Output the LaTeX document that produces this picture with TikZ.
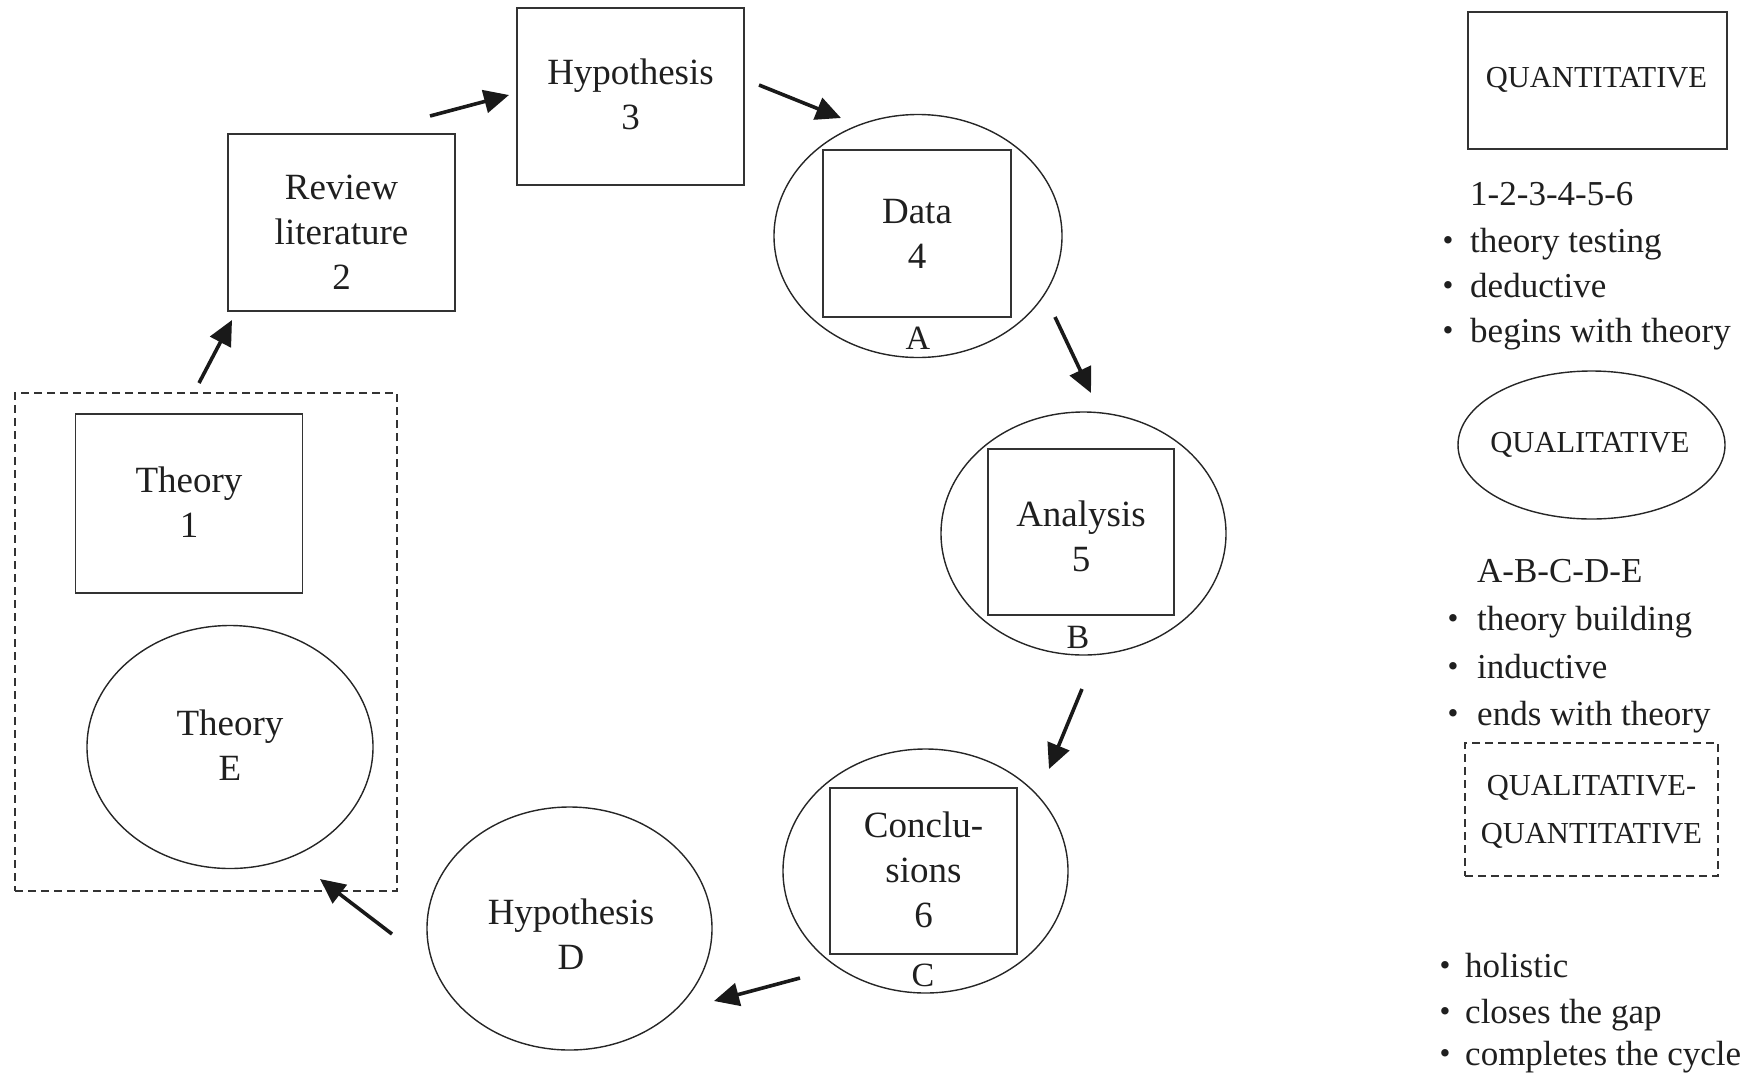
\documentclass[tikz,border=0pt]{standalone}
\usepackage{fontspec}
\setmainfont{Liberation Serif}
\usetikzlibrary{shapes.geometric,arrows.meta}
\begin{document}
\begin{tikzpicture}[x=1pt,y=-1pt,
  every node/.style={text=black!88},
  lbl/.style={font=\fontsize{37}{45}\selectfont, align=center, inner sep=0pt},
  box/.style={draw=black!80, line width=1.6pt, rectangle, inner sep=0pt},
  oval/.style={draw=black!85, line width=1.4pt, ellipse, inner sep=0pt},
  grp/.style={draw=black!80, line width=1.4pt, dash pattern=on 8pt off 5pt, rectangle, inner sep=0pt},
  arr/.style={draw=black!90, line width=3.6pt, -{Triangle[length=25pt,width=23pt]}},
  caps/.style={font=\fontsize{30.5}{48}\selectfont, align=center, inner sep=0pt},
  side/.style={anchor=base west, font=\fontsize{35}{44}\selectfont, inner sep=0pt},
  dot/.style={anchor=center, font=\fontsize{31}{31}\selectfont, inner sep=0pt},
  letter/.style={font=\fontsize{34}{40}\selectfont, inner sep=0pt},
]
\useasboundingbox (0,0) rectangle (1750,1072);

% left group
\node[grp, minimum width=382pt, minimum height=498pt] (grpbox) at (206,642) {};
\node[box, minimum width=227pt, minimum height=179pt] (th1) at (189,503.5) {};
\node[lbl] (th1t) at (189,502) {Theory\\1};
\node[oval, minimum width=286pt, minimum height=243pt] (thE) at (230,747) {};
\node[lbl] (thEt) at (230,745.5) {Theory\\E};

% cycle boxes
\node[box, minimum width=227pt, minimum height=177pt] (rev2) at (341.5,222.5) {};
\node[lbl] (rev2t) at (341.5,232) {Review\\literature\\2};
\node[box, minimum width=227pt, minimum height=177pt] (hyp3) at (630.5,96.5) {};
\node[lbl] (hyp3t) at (630.5,94.5) {Hypothesis\\3};

\node[oval, minimum width=288pt, minimum height=243pt] (dataE) at (918,236) {};
\node[box, minimum width=188pt, minimum height=167pt] (data4) at (917,233.5) {};
\node[lbl] (data4t) at (917,233.5) {Data\\4};
\node[letter] (lA) at (918,338) {A};

\node[oval, minimum width=285pt, minimum height=243pt] (anaE) at (1083.5,533.5) {};
\node[box, minimum width=186pt, minimum height=166pt] (ana5) at (1081,532) {};
\node[lbl] (ana5t) at (1081,536.5) {Analysis\\5};
\node[letter] (lB) at (1078,637) {B};

\node[oval, minimum width=285pt, minimum height=244pt] (conE) at (925.5,871) {};
\node[box, minimum width=187pt, minimum height=166pt] (con6) at (923.5,871) {};
\node[lbl] (con6t) at (923.5,870) {Conclu-\\sions\\6};
\node[letter] (lC) at (923,975) {C};

\node[oval, minimum width=285pt, minimum height=243pt] (hypD) at (569.5,928.5) {};
\node[lbl] (hypDt) at (571,934.5) {Hypothesis\\D};

% arrows
\coordinate (a1s) at (199,383); \coordinate (a1e) at (232,320);
\coordinate (a2s) at (430,116); \coordinate (a2e) at (509,95);
\coordinate (a3s) at (759,85);  \coordinate (a3e) at (841,118);
\coordinate (a4s) at (1055,317); \coordinate (a4e) at (1091,393);
\coordinate (a5s) at (1082,689); \coordinate (a5e) at (1049,769);
\coordinate (a6s) at (800,978); \coordinate (a6e) at (714,1001);
\coordinate (a7s) at (392,934); \coordinate (a7e) at (320,879);
\draw[arr] (a1s) -- (a1e);
\draw[arr] (a2s) -- (a2e);
\draw[arr] (a3s) -- (a3e);
\draw[arr] (a4s) -- (a4e);
\draw[arr] (a5s) -- (a5e);
\draw[arr] (a6s) -- (a6e);
\draw[arr] (a7s) -- (a7e);

% legend
\node[box, minimum width=259pt, minimum height=137pt] (quant) at (1597.5,80.5) {};
\node[caps, anchor=base] (quantt) at (1596.5,87) {QUANTITATIVE};
\node[side] (s1) at (1470,205) {1-2-3-4-5-6};
\node[dot] (d1) at (1448,244) {•}; \node[side] (t1) at (1470,252) {theory testing};
\node[dot] (d2) at (1448,289) {•}; \node[side] (t2) at (1470,297) {deductive};
\node[dot] (d3) at (1448,334) {•}; \node[side] (t3) at (1470,342) {begins with theory};

\node[oval, minimum width=267pt, minimum height=148pt] (qual) at (1591.5,445) {};
\node[caps, anchor=base] (qualt) at (1590,452) {QUALITATIVE};
\node[side] (s2) at (1477,582) {A-B-C-D-E};
\node[dot] (d4) at (1453,622) {•}; \node[side] (t4) at (1477,630) {theory building};
\node[dot] (d5) at (1453,670) {•}; \node[side] (t5) at (1477,678) {inductive};
\node[dot] (d6) at (1453,717) {•}; \node[side] (t6) at (1477,725) {ends with theory};

\node[grp, minimum width=253pt, minimum height=133pt] (qq) at (1591.5,809.5) {};
\node[caps, anchor=base] (qqt1) at (1591.5,795) {QUALITATIVE-};
\node[caps, anchor=base] (qqt2) at (1591.5,843) {QUANTITATIVE};

\node[dot] (d7) at (1445,969) {•}; \node[side] (t7) at (1465,977) {holistic};
\node[dot] (d8) at (1445,1015) {•}; \node[side] (t8) at (1465,1023) {closes the gap};
\node[dot] (d9) at (1445,1057) {•}; \node[side] (t9) at (1465,1065) {completes the cycle};
\end{tikzpicture}
\end{document}
